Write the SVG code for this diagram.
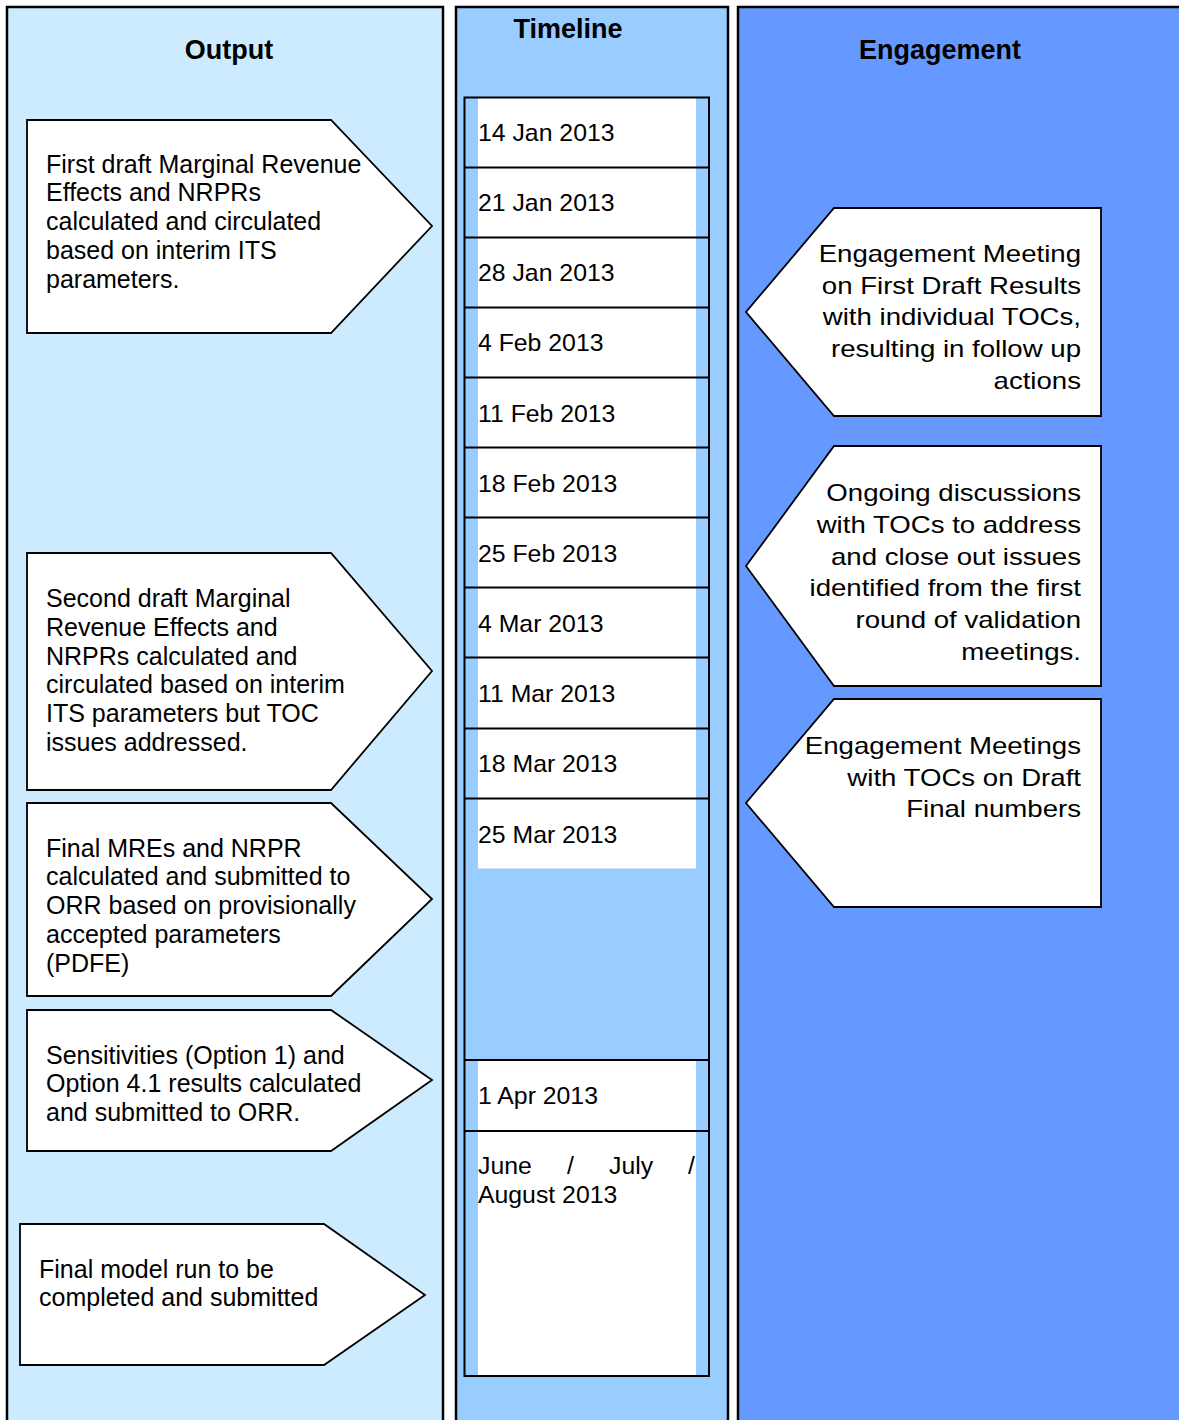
<svg xmlns="http://www.w3.org/2000/svg" width="1179" height="1420" viewBox="0 0 1179 1420">
<style>
.col{stroke:#000;stroke-width:2.5}
.hd{font-family:"Liberation Sans",Arial,sans-serif;font-weight:bold;font-size:27px;fill:#000;text-anchor:middle}
.shape{fill:#fff;stroke:#000;stroke-width:1.8;stroke-linejoin:miter}
.lt{font-family:"Liberation Sans",Arial,sans-serif;font-size:25px;fill:#000}
.rt{font-family:"Liberation Sans",Arial,sans-serif;font-size:23.4px;fill:#000;text-anchor:end}
.tl{font-family:"Liberation Sans",Arial,sans-serif;font-size:24.8px;fill:#000}
.rl{stroke:#000;stroke-width:1.8}
</style>
<rect width="1179" height="1420" fill="#fff"/>
<!-- columns -->
<g id="col-output">
<rect class="col" x="7" y="7" width="436" height="1430" fill="#CCEBFF"/>
<text class="hd" x="229" y="59">Output</text>
</g>
<g id="col-timeline">
<rect class="col" x="456" y="7" width="272" height="1430" fill="#99CCFF"/>
<text class="hd" x="568" y="38">Timeline</text>
</g>
<g id="col-engagement">
<rect class="col" x="738" y="7" width="460" height="1430" fill="#6699FF"/>
<text class="hd" x="940" y="59">Engagement</text>
</g>
<!-- timeline table -->
<g id="timeline-table">
<rect x="464.5" y="97.5" width="244.5" height="1278.5" fill="#99CCFF" stroke="none"/>
<rect x="478" y="97.5" width="218" height="771" fill="#fff"/>
<rect x="478" y="1060" width="218" height="316" fill="#fff"/>
<rect x="464.5" y="97.5" width="244.5" height="1278.5" fill="none" stroke="#000" stroke-width="2"/>
<line class="rl" x1="464.5" y1="167.5" x2="709" y2="167.5"/>
<line class="rl" x1="464.5" y1="237.5" x2="709" y2="237.5"/>
<line class="rl" x1="464.5" y1="307.5" x2="709" y2="307.5"/>
<line class="rl" x1="464.5" y1="377.5" x2="709" y2="377.5"/>
<line class="rl" x1="464.5" y1="447.5" x2="709" y2="447.5"/>
<line class="rl" x1="464.5" y1="517.5" x2="709" y2="517.5"/>
<line class="rl" x1="464.5" y1="587.5" x2="709" y2="587.5"/>
<line class="rl" x1="464.5" y1="657.5" x2="709" y2="657.5"/>
<line class="rl" x1="464.5" y1="728.5" x2="709" y2="728.5"/>
<line class="rl" x1="464.5" y1="798.5" x2="709" y2="798.5"/>
<line class="rl" x1="464.5" y1="1060" x2="709" y2="1060"/>
<line class="rl" x1="464.5" y1="1131" x2="709" y2="1131"/>
<text class="tl" x="478" y="141">14 Jan 2013</text>
<text class="tl" x="478" y="211">21 Jan 2013</text>
<text class="tl" x="478" y="281">28 Jan 2013</text>
<text class="tl" x="478" y="351">4 Feb 2013</text>
<text class="tl" x="478" y="422">11 Feb 2013</text>
<text class="tl" x="478" y="492">18 Feb 2013</text>
<text class="tl" x="478" y="562">25 Feb 2013</text>
<text class="tl" x="478" y="632">4 Mar 2013</text>
<text class="tl" x="478" y="702">11 Mar 2013</text>
<text class="tl" x="478" y="772">18 Mar 2013</text>
<text class="tl" x="478" y="843">25 Mar 2013</text>
<text class="tl" x="478" y="1104">1 Apr 2013</text>
<text class="tl" y="1174"><tspan x="478">June</tspan><tspan x="567">/</tspan><tspan x="609">July</tspan><tspan x="688">/</tspan></text>
<text class="tl" x="478" y="1203">August 2013</text>
</g>
<!-- output nodes -->
<g id="out1">
<polygon class="shape" points="27,120 331,120 432,226 331,333 27,333"/>
<text class="lt"><tspan x="46" y="172.5">First draft Marginal Revenue</tspan><tspan x="46" y="201.3">Effects and NRPRs</tspan><tspan x="46" y="230.1">calculated and circulated</tspan><tspan x="46" y="258.9">based on interim ITS</tspan><tspan x="46" y="287.7">parameters.</tspan></text>
</g>
<g id="out2">
<polygon class="shape" points="27,553 331,553 432,671 331,790 27,790"/>
<text class="lt"><tspan x="46" y="607">Second draft Marginal</tspan><tspan x="46" y="635.8">Revenue Effects and</tspan><tspan x="46" y="664.6">NRPRs calculated and</tspan><tspan x="46" y="693.4">circulated based on interim</tspan><tspan x="46" y="722.2">ITS parameters but TOC</tspan><tspan x="46" y="751">issues addressed.</tspan></text>
</g>
<g id="out3">
<polygon class="shape" points="27,803 331,803 432,899 331,996 27,996"/>
<text class="lt"><tspan x="46" y="856.5">Final MREs and NRPR</tspan><tspan x="46" y="885.3">calculated and submitted to</tspan><tspan x="46" y="914.1">ORR based on provisionally</tspan><tspan x="46" y="942.9">accepted parameters</tspan><tspan x="46" y="971.7">(PDFE)</tspan></text>
</g>
<g id="out4">
<polygon class="shape" points="27,1010 331,1010 432,1080 331,1151 27,1151"/>
<text class="lt"><tspan x="46" y="1063.5">Sensitivities (Option 1) and</tspan><tspan x="46" y="1092.3">Option 4.1 results calculated</tspan><tspan x="46" y="1121.1">and submitted to ORR.</tspan></text>
</g>
<g id="out5">
<polygon class="shape" points="20,1224 324,1224 425,1295 324,1365 20,1365"/>
<text class="lt"><tspan x="39" y="1278">Final model run to be</tspan><tspan x="39" y="1306">completed and submitted</tspan></text>
</g>
<!-- engagement nodes -->
<g id="eng1">
<polygon class="shape" points="1101,208 834,208 746,312 834,416 1101,416"/>
<g transform="translate(1081,0) scale(1.18,1)">
<text class="rt"><tspan x="0" y="262">Engagement Meeting</tspan><tspan x="0" y="293.7">on First Draft Results</tspan><tspan x="0" y="325.5">with individual TOCs,</tspan><tspan x="0" y="357.2">resulting in follow up</tspan><tspan x="0" y="389">actions</tspan></text>
</g>
</g>
<g id="eng2">
<polygon class="shape" points="1101,446 834,446 746,566 834,686 1101,686"/>
<g transform="translate(1081,0) scale(1.18,1)">
<text class="rt"><tspan x="0" y="501">Ongoing discussions</tspan><tspan x="0" y="532.8">with TOCs to address</tspan><tspan x="0" y="564.6">and close out issues</tspan><tspan x="0" y="596.4">identified from the first</tspan><tspan x="0" y="628.2">round of validation</tspan><tspan x="0" y="660">meetings.</tspan></text>
</g>
</g>
<g id="eng3">
<polygon class="shape" points="1101,699 834,699 746,803 834,907 1101,907"/>
<g transform="translate(1081,0) scale(1.18,1)">
<text class="rt"><tspan x="0" y="754">Engagement Meetings</tspan><tspan x="0" y="785.7">with TOCs on Draft</tspan><tspan x="0" y="817.4">Final numbers</tspan></text>
</g>
</g>
<g id="connectors"></g>
</svg>
